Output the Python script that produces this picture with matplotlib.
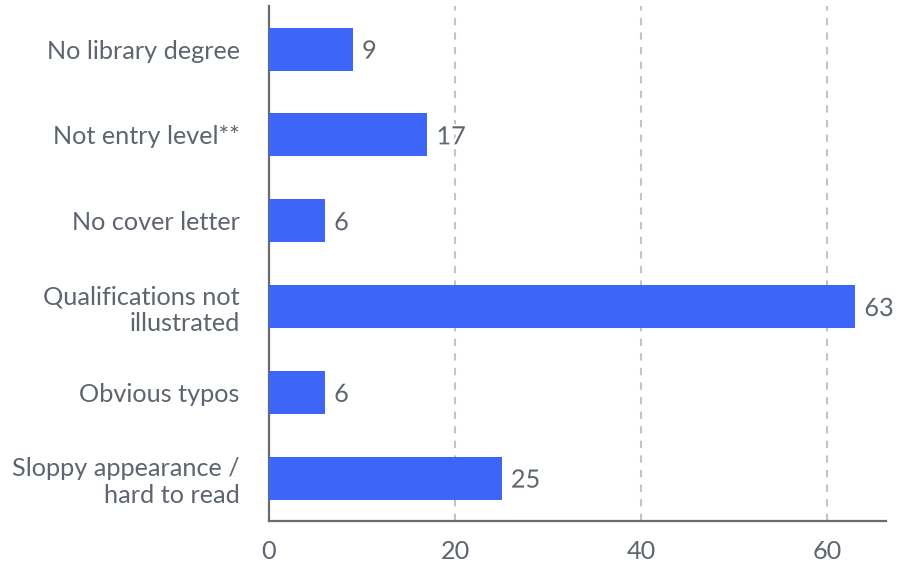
import matplotlib
matplotlib.use("Agg")
import matplotlib.pyplot as plt
import matplotlib.patheffects as pe

plt.rcParams['font.family'] = ['Lato', 'DejaVu Sans']

categories = ["No library degree", "Not entry level**", "No cover letter",
              "Qualifications not\nillustrated", "Obvious typos",
              "Sloppy appearance /\nhard to read"]
values = [9, 17, 6, 63, 6, 25]
xticks = [0, 20, 40, 60]

text_color = "#5e6570"
bar_color = "#3d65f8"

fig = plt.figure(figsize=(9.07, 5.67), dpi=100)
ax = fig.add_axes([0.2966, 0.0811, 0.68, 0.908])

y = list(range(len(categories)))
ax.barh(y, values, height=0.5, color=bar_color, zorder=3)
ax.set_ylim(len(categories) - 0.5, -0.5)
ax.set_xlim(0, 66.3)

ax.set_yticks(y)
ax.set_yticklabels(categories, fontsize=18.2, color=text_color, linespacing=1.2)
ax.set_xticks(xticks)
ax.set_xticklabels([str(t) for t in xticks], fontsize=18.2, color=text_color)
ax.tick_params(axis="both", length=0)
ax.tick_params(axis="y", pad=21)
ax.tick_params(axis="x", pad=14)

ax.xaxis.grid(True, color="#c4c4c4", linestyle=(0, (3.5, 3.5)), linewidth=1.5, zorder=0)
ax.set_axisbelow(True)

for s in ["top", "right"]:
    ax.spines[s].set_visible(False)
for s in ["left", "bottom"]:
    ax.spines[s].set_color("#6b6b6b")
    ax.spines[s].set_linewidth(1.6)

for yi, v in zip(y, values):
    t = ax.text(v + 1, yi, str(v), va="center_baseline", ha="left", fontsize=18.2,
                color=text_color, zorder=4)
    t.set_path_effects([pe.withStroke(linewidth=3, foreground="white")])

fig.savefig("out.png", dpi=100)
